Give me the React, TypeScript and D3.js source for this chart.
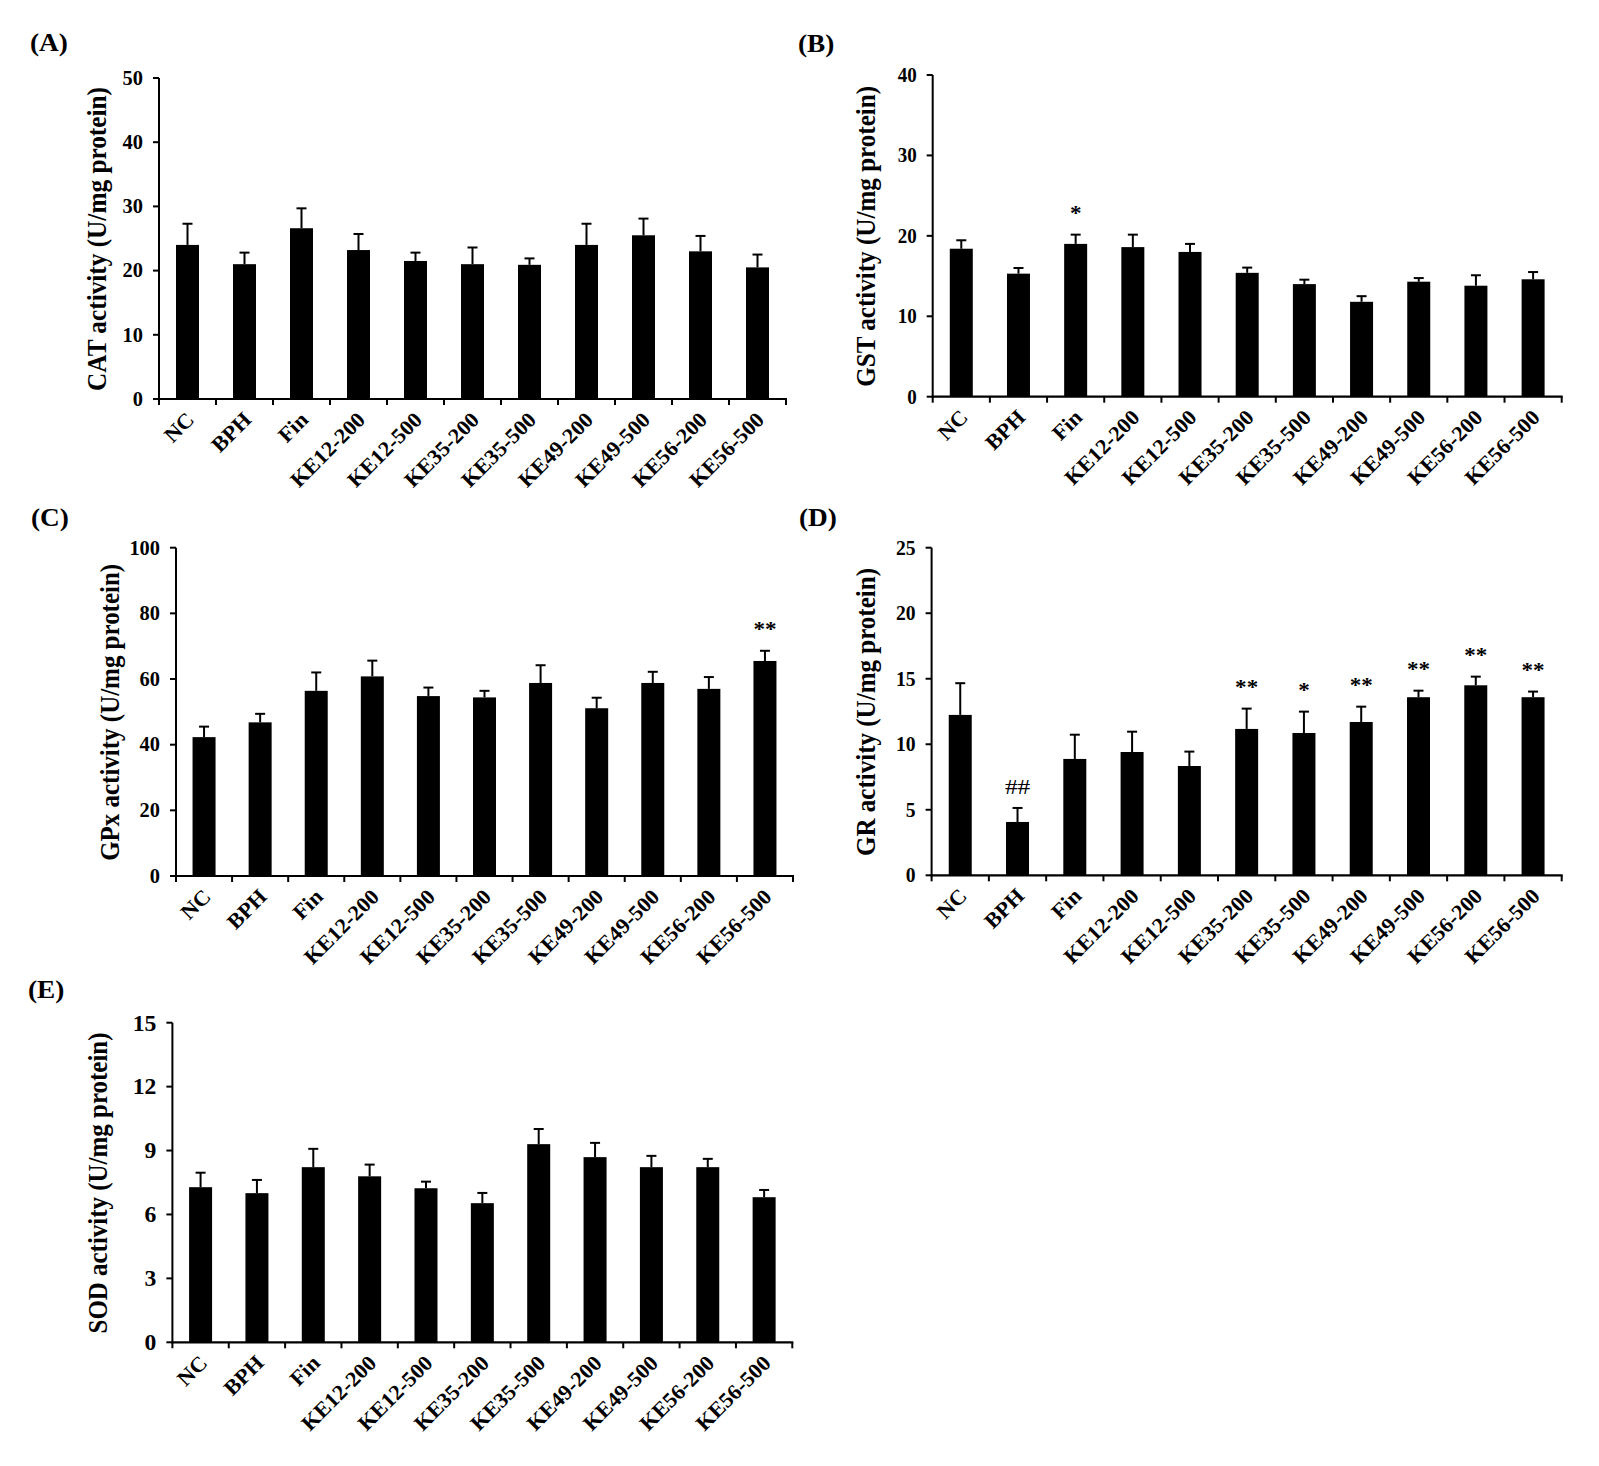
import React from "react";
import * as d3 from "d3";

const FONT = "'Liberation Serif', 'Times New Roman', serif";

const categories = ["NC", "BPH", "Fin", "KE12-200", "KE12-500", "KE35-200", "KE35-500", "KE49-200", "KE49-500", "KE56-200", "KE56-500"];

const catMeans = [24.0, 21.0, 26.6, 23.2, 21.5, 21.0, 20.9, 24.0, 25.5, 23.0, 20.5];
const catErrs = [3.3, 1.8, 3.1, 2.5, 1.3, 2.6, 1.0, 3.3, 2.6, 2.4, 2.0];
const catTicks = [0, 10, 20, 30, 40, 50];

const gstMeans = [18.4, 15.3, 19.0, 18.6, 18.0, 15.4, 14.0, 11.8, 14.3, 13.8, 14.6];
const gstErrs = [1.05, 0.7, 1.15, 1.55, 1.0, 0.65, 0.55, 0.7, 0.45, 1.3, 0.9];
const gstTicks = [0, 10, 20, 30, 40];
const gstNotes = ["", "", "*", "", "", "", "", "", "", "", ""];

const gpxMeans = [42.3, 46.8, 56.4, 60.8, 54.8, 54.4, 58.8, 51.1, 58.8, 57.0, 65.5];
const gpxErrs = [3.2, 2.6, 5.6, 4.8, 2.6, 2.0, 5.4, 3.2, 3.4, 3.6, 3.1];
const gpxTicks = [0, 20, 40, 60, 80, 100];
const gpxNotes = ["", "", "", "", "", "", "", "", "", "", "**"];

const grMeans = [12.24, 4.07, 8.88, 9.41, 8.34, 11.17, 10.86, 11.7, 13.59, 14.5, 13.59];
const grErrs = [2.42, 1.07, 1.85, 1.55, 1.1, 1.55, 1.63, 1.17, 0.5, 0.66, 0.43];
const grTicks = [0, 5, 10, 15, 20, 25];
const grNotes = ["", "##", "", "", "", "**", "*", "**", "**", "**", "**"];

const sodMeans = [7.28, 7.0, 8.22, 7.79, 7.23, 6.53, 9.3, 8.69, 8.22, 8.22, 6.81];
const sodErrs = [0.68, 0.62, 0.86, 0.55, 0.31, 0.48, 0.71, 0.67, 0.53, 0.39, 0.34];
const sodTicks = [0, 3, 6, 9, 12, 15];

const emptyNotes = categories.map(() => "");

type Cfg = {
  letter: string; lx: number; ly: number;
  x0: number; x1: number; yB: number; yT: number; max: number;
  ticks: number[]; means: number[]; errs: number[]; notes: string[];
  title: string; titleX: number; titleLen: number;
  tickFont: number; tickSx: number;
};

const panels: Cfg[] = [
  { letter: "(A)", lx: 30, ly: 51, x0: 159, x1: 786, yB: 399, yT: 78, max: 50, ticks: catTicks, means: catMeans, errs: catErrs, notes: emptyNotes, title: "CAT  activity (U/mg protein)", titleX: 106, titleLen: 304, tickFont: 20, tickSx: 1.02 },
  { letter: "(B)", lx: 798, ly: 52, x0: 932.7, x1: 1561.7, yB: 396.7, yT: 75, max: 40, ticks: gstTicks, means: gstMeans, errs: gstErrs, notes: gstNotes, title: "GST activity (U/mg protein)", titleX: 875, titleLen: 301, tickFont: 20, tickSx: 0.95 },
  { letter: "(C)", lx: 31, ly: 526, x0: 176, x1: 793, yB: 876, yT: 547.7, max: 100, ticks: gpxTicks, means: gpxMeans, errs: gpxErrs, notes: gpxNotes, title: "GPx activity (U/mg protein)", titleX: 119, titleLen: 297, tickFont: 20, tickSx: 1.02 },
  { letter: "(D)", lx: 799, ly: 526, x0: 931.6, x1: 1561.7, yB: 875.3, yT: 547.7, max: 25, ticks: grTicks, means: grMeans, errs: grErrs, notes: grNotes, title: "GR activity (U/mg protein)", titleX: 875, titleLen: 288, tickFont: 20, tickSx: 0.98 },
  { letter: "(E)", lx: 28, ly: 998, x0: 172.4, x1: 792.3, yB: 1342.3, yT: 1022.7, max: 15, ticks: sodTicks, means: sodMeans, errs: sodErrs, notes: emptyNotes, title: "SOD activity (U/mg protein)", titleX: 107, titleLen: 301, tickFont: 23, tickSx: 1.03 },
];

function Panel({ c }: { c: Cfg }) {
  const x = d3.scaleBand<string>().domain(categories).range([c.x0, c.x1]).paddingInner(0).paddingOuter(0);
  const y = d3.scaleLinear().domain([0, c.max]).range([c.yB, c.yT]);
  const bw = 23;
  const step = x.step();
  const boundaries = d3.range(categories.length + 1).map((i) => c.x0 + i * step);
  const titleCy = (c.yB + c.yT) / 2 + 0.5;
  return (
    <g>
      <text x={0} y={0} transform={`translate(${c.lx},${c.ly}) scale(1.05,1)`} fontFamily={FONT} fontWeight="bold" fontSize={26}>{c.letter}</text>
      {categories.map((cat, i) => {
        const cx = (x(cat) as number) + step / 2;
        const top = y(c.means[i]);
        const et = y(c.means[i] + c.errs[i]);
        return (
          <g key={cat}>
            <rect x={cx - bw / 2} y={top} width={bw} height={c.yB - top} fill="#000" />
            <line x1={cx} x2={cx} y1={top} y2={et} stroke="#000" strokeWidth={2} />
            <line x1={cx - 5} x2={cx + 5} y1={et} y2={et} stroke="#000" strokeWidth={2} />
            {c.notes[i] ? (
              c.notes[i] === "##" ? (
                <text transform={`translate(${cx},${et - 14}) scale(1.15,1)`} textAnchor="middle" fontFamily={FONT} fontSize={22}>{c.notes[i]}</text>
              ) : (
                <text transform={`translate(${cx},${et - 15}) scale(1.05,1)`} textAnchor="middle" fontFamily={FONT} fontWeight="bold" fontSize={22}>{c.notes[i]}</text>
              )
            ) : null}
            <text transform={`translate(${cx + 8},${c.yB + 22}) rotate(-45) scale(1.04,1)`} textAnchor="end" fontFamily={FONT} fontWeight="bold" fontSize={21.5}>{cat}</text>
          </g>
        );
      })}
      <line x1={c.x0} x2={c.x0} y1={c.yB + 1} y2={c.yT} stroke="#000" strokeWidth={2} />
      {c.ticks.map((t) => (
        <g key={t}>
          <line x1={c.x0 - 6} x2={c.x0} y1={y(t)} y2={y(t)} stroke="#000" strokeWidth={2} />
          <text transform={`translate(${c.x0 - 16},${y(t) + c.tickFont * 0.34}) scale(${c.tickSx},1)`} textAnchor="end" fontFamily={FONT} fontWeight="bold" fontSize={c.tickFont}>{t}</text>
        </g>
      ))}
      <line x1={c.x0 - 1} x2={c.x1 + 1} y1={c.yB} y2={c.yB} stroke="#000" strokeWidth={2.2} />
      {boundaries.map((b, i) => (
        <line key={i} x1={b} x2={b} y1={c.yB} y2={c.yB + 6} stroke="#000" strokeWidth={2} />
      ))}
      <text transform={`translate(${c.titleX},${titleCy}) rotate(-90)`} textAnchor="middle" fontFamily={FONT} fontWeight="bold" fontSize={27} textLength={c.titleLen} lengthAdjust="spacingAndGlyphs">{c.title}</text>
    </g>
  );
}

export default function App() {
  return (
    <svg width={1599} height={1466} viewBox="0 0 1599 1466" style={{ position: "absolute", left: 0, top: 0, display: "block", background: "#fff" }}>
      <rect x={0} y={0} width={1599} height={1466} fill="#fff" />
      {panels.map((p) => (
        <Panel key={p.letter} c={p} />
      ))}
    </svg>
  );
}
